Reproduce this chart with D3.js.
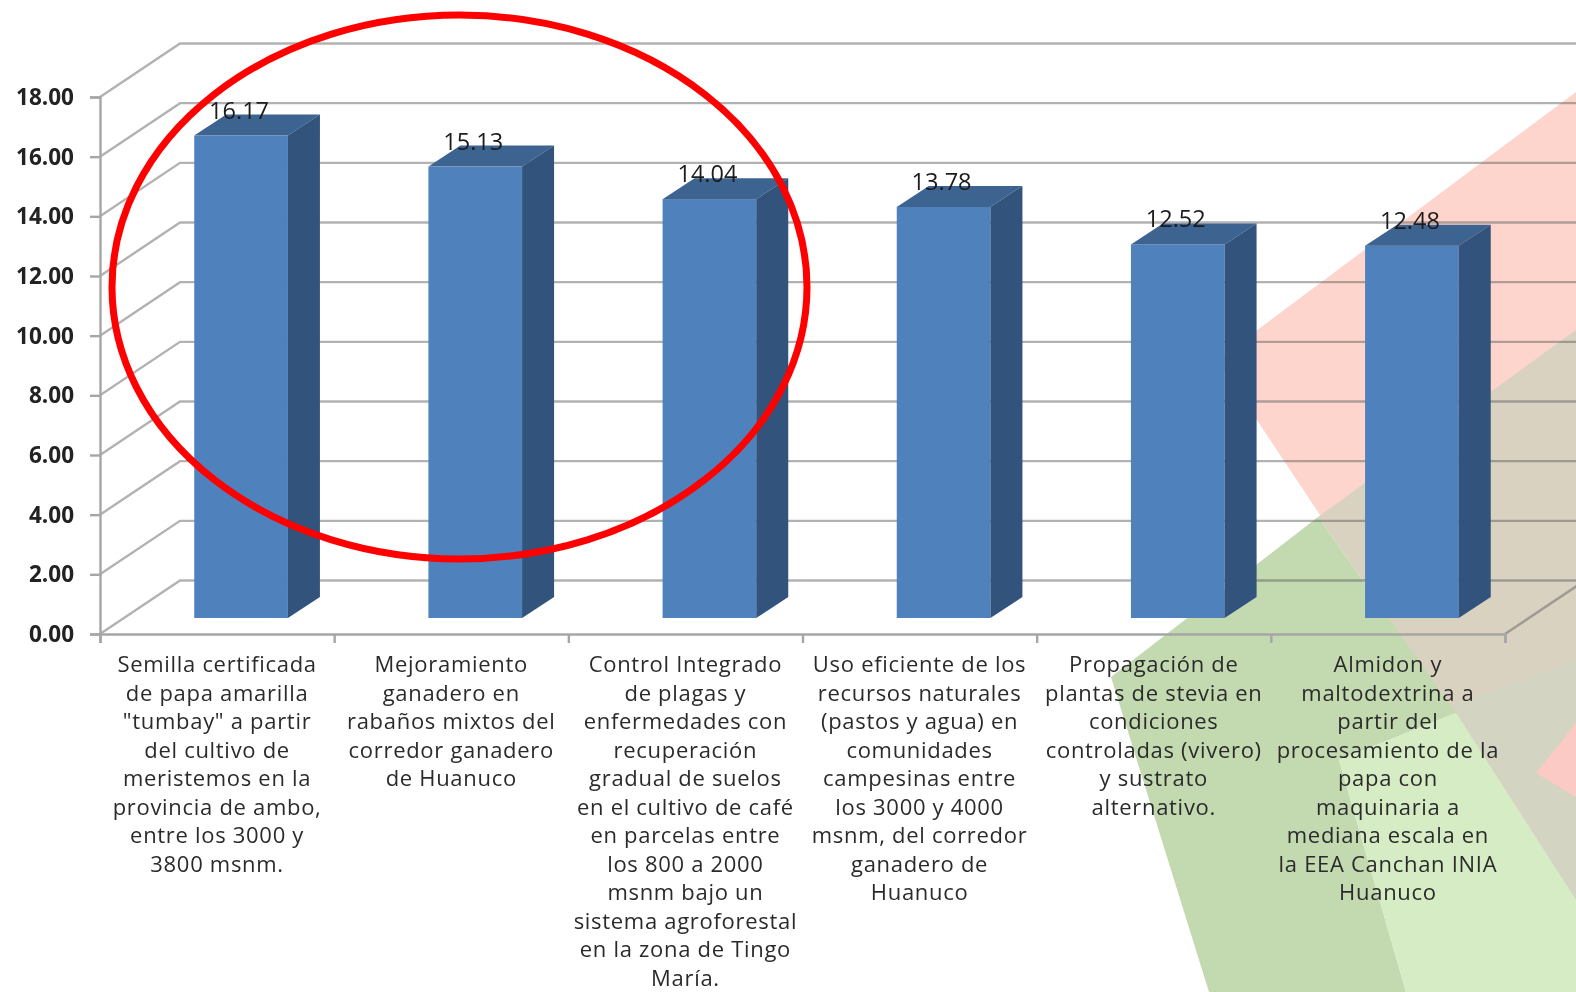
<!DOCTYPE html>
<html>
<head>
<meta charset="utf-8">
<title>Tecnologias</title>
<script src="https://cdn.jsdelivr.net/npm/d3@7"></script>
<style>
html, body { margin: 0; padding: 0; background: #fff; overflow: hidden; }
svg { display: block; }
text { font-family: "Open Sans", sans-serif; }
</style>
</head>
<body>
<script>
var categories = [
    ['Semilla certificada', 'de papa amarilla', '"tumbay" a partir', 'del cultivo de', 'meristemos en la', 'provincia de ambo,', 'entre los 3000 y', '3800 msnm.'],
    ['Mejoramiento', 'ganadero en', 'rabaños mixtos del', 'corredor ganadero', 'de Huanuco'],
    ['Control Integrado', 'de plagas y', 'enfermedades con', 'recuperación', 'gradual de suelos', 'en el cultivo de café', 'en parcelas entre', 'los 800 a 2000', 'msnm bajo un', 'sistema agroforestal', 'en la zona de Tingo', 'María.'],
    ['Uso eficiente de los', 'recursos naturales', '(pastos y agua) en', 'comunidades', 'campesinas entre', 'los 3000 y 4000', 'msnm, del corredor', 'ganadero de', 'Huanuco'],
    ['Propagación de', 'plantas de stevia en', 'condiciones', 'controladas (vivero)', 'y sustrato', 'alternativo.'],
    ['Almidon y', 'maltodextrina a', 'partir del', 'procesamiento de la', 'papa con', 'maquinaria a', 'mediana escala en', 'la EEA Canchan INIA', 'Huanuco']
]
var values = [16.17, 15.13, 14.04, 13.78, 12.52, 12.48]
var yTicks = [0, 2, 4, 6, 8, 10, 12, 14, 16, 18]

// the slide's background shapes, they are not data
var backShapes = [
    { fill: '#fdd5cd', pts: [[1217, 360], [1576, 92], [1576, 900]] },
    { fill: '#d9d2c1', pts: [[1318, 517], [1576, 330], [1576, 900], [1456, 713]] },
    { fill: '#d3d5c2', pts: [[1452, 706], [1576, 660], [1576, 900]] },
    { fill: '#c3d9b0', pts: [[1111, 677], [1318, 517], [1456, 713], [1339, 760], [1406, 992], [1209, 992]] },
    { fill: '#d5ecc4', pts: [[1339, 760], [1456, 713], [1576, 900], [1576, 992], [1406, 992]] },
    { fill: '#fccac5', pts: [[1536, 773], [1576, 723], [1576, 797]] }
]

var width = 1576, height = 992
var left = 100, right = 1505, bottom = 634, top18 = 97
var wallDx = 80, wallDy = -53.5      // depth of the whole 3d box
var baseDx = 24, baseDy = -16        // where the bars stand on the floor
var barDx = 32, barDy = -21          // depth of a bar

var svg = d3.select('body').append('svg')
    .attr('width', width)
    .attr('height', height)

svg.append('defs').append('filter')
    .attr('id', 'soft')
    .attr('x', 0).attr('y', 0).attr('width', 1).attr('height', 1)
    .append('feGaussianBlur')
    .attr('stdDeviation', 0.75)

var root = svg.append('g').attr('filter', 'url(#soft)')

root.append('rect')
    .attr('width', width).attr('height', height).attr('fill', '#fff')

root.selectAll('polygon.back')
    .data(backShapes)
    .enter().append('polygon')
    .attr('class', 'back')
    .attr('fill', function (d) { return d.fill })
    .attr('points', function (d) { return d.pts.join(' ') })

var y = d3.scaleLinear().domain([0, 18]).range([bottom, top18])
var x = d3.scaleBand().domain(d3.range(categories.length))
    .range([left, right]).paddingInner(0.6).paddingOuter(0.3)
var xEdges = d3.scaleLinear().domain([0, categories.length]).range([left, right])

var gridColor = 'rgba(95,95,95,0.48)'

// walls: back gridlines and left side diagonals
root.selectAll('polyline.grid')
    .data(yTicks)
    .enter().append('polyline')
    .attr('class', 'grid')
    .attr('fill', 'none')
    .attr('stroke', gridColor)
    .attr('stroke-width', 2.4)
    .attr('points', function (d) {
        var yy = y(d)
        return [[left, yy], [left + wallDx, yy + wallDy], [right + wallDx, yy + wallDy]].join(' ')
    })

// right edge of the floor
root.append('line')
    .attr('x1', right).attr('y1', y(0))
    .attr('x2', right + wallDx).attr('y2', y(0) + wallDy)
    .attr('stroke', gridColor).attr('stroke-width', 2.4)

// axes
var yAxis = d3.axisLeft(y)
    .tickValues(yTicks)
    .tickSize(10)
    .tickPadding(16)
    .tickFormat(d3.format('.2f'))
var yG = root.append('g')
    .attr('transform', 'translate(' + left + ',0)')
    .call(yAxis)
yG.selectAll('text')
    .attr('font-size', 22.5)
    .attr('font-weight', 700)
    .attr('fill', '#222')
    .attr('dy', '0.34em')
    .style('font-family', '"Open Sans", sans-serif')

var xAxis = d3.axisBottom(xEdges)
    .ticks(categories.length)
    .tickSize(9)
    .tickFormat('')
var xG = root.append('g')
    .attr('transform', 'translate(0,' + bottom + ')')
    .call(xAxis)

root.selectAll('.domain, .tick line')
    .attr('stroke', '#a6a6a6')
    .attr('stroke-width', 2.4)

// bars
var bars = root.selectAll('g.bar')
    .data(values)
    .enter().append('g')
    .attr('class', 'bar')
    .attr('transform', function (d, i) {
        return 'translate(' + (x(i) + baseDx) + ',' + baseDy + ')'
    })

bars.append('rect')
    .attr('x', 0)
    .attr('y', function (d) { return y(d) })
    .attr('width', x.bandwidth())
    .attr('height', function (d) { return y(0) - y(d) })
    .attr('fill', '#4f81bd')

bars.append('polygon')
    .attr('fill', '#3e6391')
    .attr('points', function (d) {
        var w = x.bandwidth(), t = y(d)
        return [[0, t], [barDx, t + barDy], [w + barDx, t + barDy], [w, t]].join(' ')
    })

bars.append('polygon')
    .attr('fill', '#31527b')
    .attr('points', function (d) {
        var w = x.bandwidth(), t = y(d), b = y(0)
        return [[w, t], [w + barDx, t + barDy], [w + barDx, b + barDy], [w, b]].join(' ')
    })

bars.append('text')
    .attr('x', x.bandwidth() / 2 - 2)
    .attr('y', function (d) { return y(d) + barDy + 4 })
    .attr('text-anchor', 'middle')
    .attr('font-size', 23.5)
    .attr('fill', '#1c1c1c')
    .text(function (d) { return d.toFixed(2) })

// category labels, already broken in lines like the original
var labels = root.selectAll('text.cat')
    .data(categories)
    .enter().append('text')
    .attr('class', 'cat')
    .attr('text-anchor', 'middle')
    .attr('font-size', 22)
    .attr('letter-spacing', 0.7)
    .attr('fill', '#2c2c2c')

labels.selectAll('tspan')
    .data(function (d, i) {
        return d.map(function (s) { return { s: s, i: i } })
    })
    .enter().append('tspan')
    .attr('x', function (d) { return xEdges(d.i + 0.5) })
    .attr('y', function (d, j) { return 672 + j * 28.5 })
    .text(function (d) { return d.s })

// red ellipse marked by hand over the chart
root.append('ellipse')
    .attr('cx', 459.5).attr('cy', 287)
    .attr('rx', 347.5).attr('ry', 272)
    .attr('fill', 'none')
    .attr('stroke', '#ff0000')
    .attr('stroke-width', 7)
</script>
</body>
</html>
